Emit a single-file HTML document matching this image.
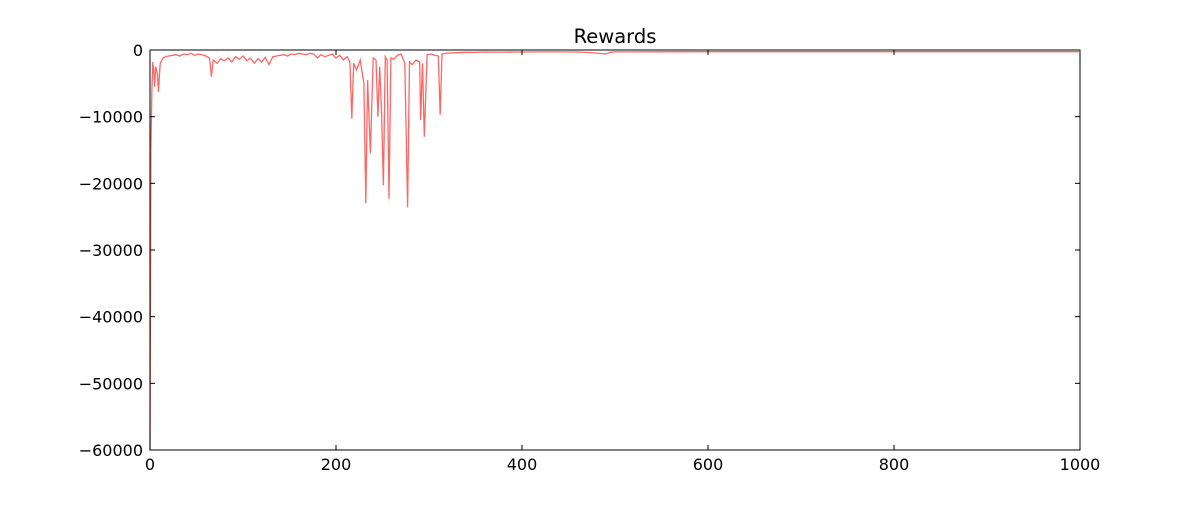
<!DOCTYPE html>
<html><head><meta charset="utf-8"><style>
body{margin:0;background:#fff;}
svg text{font-family:"DejaVu Sans","Liberation Sans",sans-serif;}
</style></head><body>
<svg id="chart" width="1200" height="500">
<rect x="0" y="0" width="1200" height="500" fill="#fff"/>
<text x="615" y="43" font-size="19.5" text-anchor="middle">Rewards</text>
<g id="plot"></g>
</svg>
<script>
const episodes=[0,1,2,3,4,5,6,8,9,11,14,17,20,24,28,32,36,40,44,48,52,56,60,64,66,68,72,76,80,84,88,92,96,100,104,108,112,116,120,124,128,132,136,140,144,148,152,156,160,164,168,172,176,180,184,188,192,196,200,204,208,212,215,217,219,222,226,230,232,234,237,240,243,245,247,249,251,253,255,257,259,262,266,270,274,277,279,282,286,290,291,293,295,298,302,306,310,312,314,318,322,330,340,350,360,380,400,430,460,480,490,495,500,540,600,650,700,750,800,850,900,950,999];
const rewards=[-60000,-15000,-6000,-1800,-3000,-5500,-2500,-3500,-6300,-2000,-1200,-1000,-900,-800,-700,-900,-600,-700,-500,-800,-600,-700,-900,-1200,-4000,-1500,-2000,-1300,-1600,-1200,-1800,-1000,-1400,-900,-1600,-1200,-2000,-1300,-1800,-1100,-2200,-1000,-900,-800,-700,-900,-600,-700,-500,-600,-700,-500,-600,-1200,-700,-1000,-800,-600,-1200,-800,-1500,-1000,-1800,-10300,-2000,-3000,-1500,-5000,-23000,-4500,-15500,-1200,-1500,-10000,-2500,-9500,-20300,-1000,-1500,-22300,-1200,-1400,-800,-600,-2000,-23600,-1800,-2200,-1500,-1800,-10500,-2000,-13000,-700,-600,-800,-900,-9700,-600,-500,-450,-400,-350,-350,-300,-320,-300,-280,-300,-450,-600,-350,-280,-270,-260,-250,-250,-250,-250,-250,-250,-250,-250];
const xTicks=[0,200,400,600,800,1000];
const yTicks=[0,-10000,-20000,-30000,-40000,-50000,-60000];
const L=150,R=1080,T=50,B=450;
const xs=v=>L+(v-0)/1000*(R-L);
const ys=v=>T+(0-v)/60000*(B-T);
const NS="http://www.w3.org/2000/svg";
const g=document.getElementById('plot');
function mk(t,a){const e=document.createElementNS(NS,t);for(const k in a)e.setAttribute(k,a[k]);g.appendChild(e);return e;}
let d='';episodes.forEach((e,i)=>{d+=(i?'L':'M')+xs(e).toFixed(1)+','+ys(rewards[i]).toFixed(1);});
const line=mk('path',{d:d,fill:'none',stroke:'#ff6666','stroke-width':1.3});


const frame=mk('rect',{x:L,y:T,width:R-L,height:B-T,fill:'none',stroke:'#000','stroke-width':1});


xTicks.forEach(v=>{
 const x=xs(v);
 const t1=mk('line',{x1:x,x2:x,y1:B,y2:B-5,stroke:'#000'});
 
 
 const t2=mk('line',{x1:x,x2:x,y1:T,y2:T+5,stroke:'#000'});
 
 
 const tx=mk('text',{x:x,y:B+20,'font-size':16,'text-anchor':'middle'});
 tx.textContent=v;
 
 
});
yTicks.forEach(v=>{
 const y=ys(v);
 const t1=mk('line',{x1:L,x2:L+5,y1:y,y2:y,stroke:'#000'});
 
 
 const t2=mk('line',{x1:R,x2:R-5,y1:y,y2:y,stroke:'#000'});
 
 
 const tx=mk('text',{x:L-7,y:y+6,'font-size':16,'text-anchor':'end'});
 tx.textContent=v<0?'\u2212'+(-v):String(v);
 
 
});
</script>
</body></html>
